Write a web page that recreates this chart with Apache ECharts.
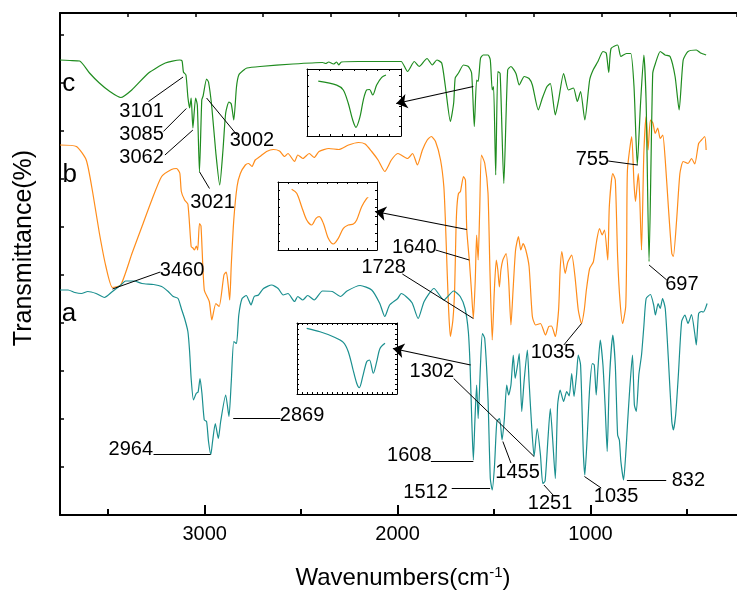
<!DOCTYPE html>
<html>
<head>
<meta charset="utf-8">
<script src="https://cdn.jsdelivr.net/npm/echarts@6/dist/echarts.min.js"></script>
<style>
html, body { margin: 0; padding: 0; background: #fff; }
#main { width: 737px; height: 592px; }
</style>
</head>
<body>
<div id="main"></div>
<script>
// spectra: [wavenumber, transmittance]
var specC = [[3750,91.0],[3699,90.9],[3648,90.8],[3597,88.4],[3546,86.4],[3495,84.8],[3435,83.5],[3378,85.0],[3291,88.4],[3204,90.4],[3129,91.0],[3117,90.8],[3110,88.6],[3097,88.0],[3087,83.6],[3078,81.4],[3070,83.4],[3061,77.4],[3047,83.4],[3038,82.0],[3027,68.6],[3015,83.0],[3008,83.8],[2990,87.2],[2980,86.6],[2963,81.6],[2942,72.4],[2922,66.0],[2905,73.0],[2891,80.4],[2874,82.6],[2862,82.2],[2849,79.0],[2835,85.6],[2823,88.0],[2797,89.0],[2781,89.4],[2713,89.7],[2542,90.2],[2389,90.5],[2372,90.3],[2357,90.6],[2332,90.2],[2316,90.6],[2305,90.0],[2291,90.6],[2203,90.7],[2000,90.7],[1981,90.7],[1948,88.7],[1913,90.7],[1888,89.7],[1847,91.3],[1820,90.0],[1796,91.0],[1771,90.4],[1752,85.7],[1726,78.7],[1709,82.4],[1701,87.4],[1684,88.4],[1658,90.0],[1633,89.7],[1616,88.4],[1602,77.7],[1590,87.0],[1582,86.7],[1570,91.3],[1556,92.0],[1531,92.0],[1519,91.0],[1509,85.0],[1502,85.7],[1491,68.0],[1480,88.7],[1468,88.3],[1449,66.3],[1429,89.0],[1412,89.7],[1386,88.3],[1369,86.0],[1343,87.7],[1318,87.3],[1301,86.0],[1270,81.0],[1250,83.3],[1225,85.7],[1208,86.3],[1182,80.0],[1165,83.0],[1139,88.3],[1114,85.0],[1088,85.4],[1068,82.7],[1051,84.7],[1029,79.0],[1004,87.0],[986,89.0],[961,90.7],[935,92.7],[918,92.4],[905,88.5],[893,93.3],[859,94.0],[842,91.7],[813,92.3],[791,92.3],[774,85.7],[757,70.0],[740,82.4],[723,92.0],[711,82.4],[696,50.7],[677,88.3],[663,90.3],[638,92.7],[613,92.0],[587,91.7],[561,87.7],[540,81.0],[519,91.0],[494,92.7],[451,93.0],[429,92.4],[400,92.0]];

var specB = [[3750,74.0],[3665,73.7],[3614,71.0],[3580,64.4],[3546,56.4],[3512,49.7],[3478,45.5],[3435,46.0],[3376,52.4],[3325,57.7],[3274,63.0],[3223,67.7],[3172,69.1],[3146,69.3],[3129,68.4],[3121,64.7],[3104,63.0],[3087,62.2],[3070,53.7],[3061,53.4],[3053,53.0],[3043,53.8],[3036,53.0],[3027,58.3],[3019,57.8],[3002,45.0],[2976,42.7],[2963,39.0],[2942,42.3],[2925,41.7],[2900,48.0],[2888,48.6],[2878,46.0],[2870,43.0],[2862,50.0],[2849,59.0],[2832,65.7],[2815,68.3],[2789,70.0],[2772,70.3],[2755,69.7],[2738,71.0],[2713,71.7],[2679,72.7],[2644,73.1],[2612,72.8],[2585,71.7],[2568,72.3],[2534,70.7],[2517,72.0],[2491,71.3],[2458,72.3],[2432,71.5],[2407,72.7],[2356,73.3],[2305,73.1],[2254,74.0],[2203,74.5],[2168,74.2],[2134,72.7],[2101,71.0],[2066,68.7],[2032,71.0],[1999,72.3],[1981,72.0],[1948,71.3],[1922,72.3],[1897,70.0],[1871,73.0],[1846,75.0],[1825,75.7],[1803,74.7],[1777,71.0],[1760,65.7],[1752,59.0],[1743,49.0],[1735,41.0],[1726,35.7],[1713,39.0],[1704,45.0],[1697,57.0],[1692,61.7],[1684,64.3],[1674,64.7],[1658,67.7],[1648,67.0],[1641,57.0],[1628,51.0],[1617,45.0],[1607,39.3],[1597,47.0],[1590,56.0],[1582,51.0],[1574,61.0],[1565,72.0],[1548,70.4],[1531,64.4],[1521,49.0],[1509,35.0],[1498,45.0],[1488,51.0],[1480,49.0],[1472,45.6],[1464,49.0],[1454,51.0],[1437,52.3],[1424,47.0],[1412,38.0],[1401,45.0],[1388,53.0],[1373,55.7],[1361,53.0],[1349,54.3],[1335,53.0],[1318,49.7],[1301,39.7],[1284,38.0],[1259,38.3],[1233,36.0],[1216,37.7],[1202,37.8],[1182,35.7],[1165,41.0],[1157,49.0],[1148,52.7],[1131,48.3],[1117,50.6],[1097,52.0],[1080,47.7],[1063,41.0],[1046,38.3],[1032,41.0],[1021,45.0],[1004,49.3],[985,50.6],[967,55.0],[953,57.3],[939,56.0],[927,57.0],[910,51.0],[902,61.7],[884,68.3],[871,67.0],[859,51.7],[847,43.0],[833,38.3],[817,41.7],[812,53.0],[808,69.0],[786,75.7],[774,66.3],[766,62.7],[752,68.3],[745,64.3],[735,53.0],[723,72.3],[711,79.7],[701,73.0],[689,79.0],[676,78.4],[664,76.3],[651,77.4],[638,75.3],[625,76.0],[612,71.0],[596,61.7],[578,52.3],[570,51.7],[553,59.0],[536,68.3],[519,70.7],[494,70.3],[476,71.3],[459,70.2],[439,74.3],[424,75.0],[407,75.7],[400,73.0]];

var specA = [[3750,45.0],[3708,45.0],[3673,44.5],[3639,44.3],[3606,44.7],[3563,44.3],[3520,43.5],[3478,44.7],[3435,46.0],[3410,46.8],[3367,46.8],[3325,46.3],[3265,46.1],[3223,45.7],[3189,44.7],[3163,43.7],[3138,43.3],[3121,41.3],[3104,39.3],[3087,36.7],[3078,32.7],[3070,27.3],[3058,23.0],[3044,24.3],[3034,24.6],[3024,27.3],[3014,24.3],[3002,19.0],[2990,18.7],[2980,14.7],[2968,12.1],[2959,14.7],[2945,18.3],[2929,15.3],[2917,18.7],[2891,24.0],[2874,19.7],[2862,26.7],[2849,34.7],[2835,34.3],[2823,40.0],[2806,43.3],[2784,43.9],[2772,43.0],[2760,42.0],[2743,43.7],[2721,44.0],[2695,45.3],[2653,46.0],[2619,45.3],[2593,44.0],[2568,44.3],[2534,42.7],[2517,43.7],[2491,43.0],[2466,43.9],[2432,43.0],[2389,44.8],[2338,44.7],[2296,43.7],[2262,44.8],[2194,45.9],[2134,45.0],[2092,42.3],[2066,39.7],[2041,42.0],[1999,43.3],[1981,44.3],[1956,43.7],[1924,42.4],[1893,39.3],[1862,42.7],[1811,45.3],[1760,43.0],[1709,44.8],[1675,43.7],[1650,41.3],[1633,36.7],[1624,30.0],[1616,20.0],[1607,11.0],[1599,18.7],[1590,26.0],[1582,19.3],[1570,30.0],[1560,36.3],[1548,35.3],[1531,23.3],[1519,7.3],[1509,5.0],[1497,10.0],[1485,18.7],[1471,19.3],[1458,15.0],[1446,19.3],[1434,26.0],[1424,24.0],[1412,26.0],[1400,32.0],[1390,27.3],[1378,30.0],[1369,32.3],[1356,20.7],[1344,26.7],[1327,33.0],[1318,26.7],[1305,18.0],[1292,11.7],[1276,17.3],[1259,12.0],[1247,6.3],[1235,6.8],[1220,15.3],[1208,21.3],[1196,15.3],[1182,7.3],[1170,22.0],[1157,25.0],[1139,22.7],[1123,24.7],[1110,23.8],[1097,28.3],[1085,23.7],[1072,28.0],[1063,32.0],[1051,30.0],[1037,12.7],[1029,8.0],[1017,15.3],[1004,25.3],[990,30.3],[980,30.0],[970,24.0],[961,29.3],[949,35.0],[935,30.0],[924,22.0],[913,12.7],[902,26.7],[884,36.0],[871,30.0],[859,16.0],[850,15.0],[842,10.7],[828,7.0],[816,12.7],[808,18.0],[796,25.3],[782,32.0],[772,22.0],[762,20.7],[749,28.0],[735,32.0],[723,37.7],[711,43.3],[689,44.1],[672,42.0],[663,40.0],[649,42.3],[638,41.3],[626,43.3],[612,41.3],[596,31.3],[578,18.7],[570,17.0],[558,20.0],[544,28.0],[527,38.7],[510,40.0],[494,38.3],[476,40.1],[459,36.3],[451,34.0],[439,40.3],[425,40.7],[414,40.6],[395,42.3]];

// inset curves (relative units 0-100 inside each box)
var insetC = [[12,82],[31.6,76],[38.6,68.7],[43.9,48.8],[48.6,23.9],[52.1,13],[56.4,28.8],[59.9,53.7],[63.5,68.7],[66.5,69.4],[69.9,61.2],[74.1,76.1],[79.5,87.6],[84,91]];
var insetB = [[13.8,89.3],[18.9,83.4],[23.9,63.7],[29,44.1],[34,36.8],[38.4,46.6],[41.7,49],[45.8,39.3],[50.8,17.2],[55.9,8.8],[60.9,17.2],[66,31.9],[71,36.8],[76.1,38.2],[79.5,44.1],[84.5,63.7],[89.6,76],[91.2,77.2]];
var insetA = [[9.7,92.5],[23,87.7],[36.3,80.7],[46.3,72.8],[51.3,59.6],[55.7,36.2],[59.7,15.1],[62.3,8.9],[65.7,24.4],[69.7,45.5],[72.5,47.9],[76.3,29.2],[79.7,45.5],[83,64.2],[88,71.4]];

// peak labels: [text, wavenumber, transmittance]
var peakLabels = [
  ['3101',3327,80.8],['3085',3327,76.1],['3062',3327,71.5],['3021',2959,62.5],['3002',2755,74.9],
  ['3460',3117,48.9],['2964',3383,13.1],['2869',2495,20.0],['1728',2072,49.5],['1640',1913,53.5],
  ['755',990,71.1],['697',526,46.1],['1035',1194,32.5],['1302',1822,28.8],['1608',1939,11.9],
  ['1455',1378,8.5],['1512',1855,4.5],['1251',1209,2.4],['1035',867,3.7],['832',492,6.9]
];
var curveTags = [['c',3704,86.2],['b',3699,68.0],['a',3704,40.2]];

// leader lines: [wn1, t1, wn2, t2]
var leaderLines = [
  [3291,82.7,3112,87.6],[3214,76.7,3095,81.3],[3206,72.0,3061,77.0],[2975,65.3,3026,68.6],
  [2832,76.0,2990,83.4],[3230,48.6,3478,45.2],[3265,12.2,2969,12.2],[2852,19.3,2607,19.3],
  [1975,48.2,1607,39.3],[1803,53.0,1628,51.0],[908,70.8,755,70.0],[696,50.0,604,47.0],
  [1138,34.0,1046,38.3],[1709,27.3,1292,11.7],[1827,10.7,1607,10.7],[1412,10.4,1454,14.7],
  [1719,5.3,1520,5.3],[1241,6.0,1189,3.8],[1031,7.7,944,5.4],[811,7.0,607,7.0]
];
var arrowLines = [[1607,85.7,2007,82.3],[1641,57.1,2117,60.7],[1621,30.0,2024,33.3]];

var xTicks = [3000, 2000, 1000];
var xMinorTicks = [3500, 2500, 1500, 500];

var FONT = 'Liberation Sans, Arial, Helvetica, sans-serif';
var colC = '#1f8c1f', colB = '#ff8c1a', colA = '#1a8f8f';

var insetBoxes = [
  {left: 307, top: 69, width: 94, height: 67, dx: 12.5, dy: 15},
  {left: 278, top: 182, width: 99, height: 68, dx: 10, dy: 12.5},
  {left: 297, top: 323, width: 100, height: 71, dx: 5, dy: 7}
];
var insetData = [insetC, insetB, insetA];
var insetCol = [colC, colB, colA];

var grids = [{left: 60, top: 13, width: 688, height: 502}];
var xAxes = [
  {gridIndex: 0, type: 'value', min: 240, max: 3750, inverse: true, position: 'bottom',
   axisLine: {onZero: false, lineStyle: {color: '#000', width: 2}},
   axisTick: {inside: true, length: 10, customValues: xTicks, lineStyle: {color: '#000', width: 2}},
   axisLabel: {customValues: xTicks, color: '#000', fontSize: 20, fontFamily: FONT, margin: 9,
     formatter: function (v) { return String(v); }},
   splitLine: {show: false}},
  {gridIndex: 0, type: 'value', min: 240, max: 3750, inverse: true, position: 'bottom',
   axisLine: {show: false, onZero: false},
   axisTick: {inside: true, length: 6, customValues: xMinorTicks, lineStyle: {color: '#000', width: 2}},
   axisLabel: {show: false}, splitLine: {show: false}},
  {gridIndex: 0, type: 'value', min: 0, max: 10, interval: 1, position: 'top',
   axisLine: {onZero: false, lineStyle: {color: '#000', width: 2}},
   axisTick: {inside: true, length: 4, lineStyle: {color: '#000', width: 1.5}},
   axisLabel: {show: false}, splitLine: {show: false}}
];
var yAxes = [
  {gridIndex: 0, type: 'value', min: 0, max: 100.4, interval: 9.6,
   axisLine: {show: true, onZero: false, lineStyle: {color: '#000', width: 2}},
   axisTick: {show: true, inside: true, length: 4, lineStyle: {color: '#000', width: 1.5}},
   axisLabel: {show: false}, splitLine: {show: false}}
];
var series = [
  {type: 'line', name: 'c', data: specC, xAxisIndex: 0, yAxisIndex: 0, showSymbol: false, smooth: 0.2,
   lineStyle: {color: colC, width: 1.2}, z: 3},
  {type: 'line', name: 'b', data: specB, xAxisIndex: 0, yAxisIndex: 0, showSymbol: false, smooth: 0.2,
   lineStyle: {color: colB, width: 1.2}, z: 2},
  {type: 'line', name: 'a', data: specA, xAxisIndex: 0, yAxisIndex: 0, showSymbol: false, smooth: 0.2,
   lineStyle: {color: colA, width: 1.2}, z: 2}
];

insetBoxes.forEach(function (b, k) {
  grids.push({left: b.left, top: b.top, width: b.width, height: b.height});
  var gi = k + 1;
  ['bottom', 'top'].forEach(function (pos) {
    xAxes.push({gridIndex: gi, type: 'value', min: 0, max: 100, interval: b.dx, position: pos,
      axisLine: {onZero: false, lineStyle: {color: '#000', width: 1}},
      axisTick: {inside: true, length: 2, lineStyle: {color: '#000', width: 1}},
      axisLabel: {show: false}, splitLine: {show: false}});
  });
  ['left', 'right'].forEach(function (pos) {
    yAxes.push({gridIndex: gi, type: 'value', min: 0, max: 100, interval: b.dy, position: pos,
      axisLine: {show: true, onZero: false, lineStyle: {color: '#000', width: 1}},
      axisTick: {show: true, inside: true, length: 2, lineStyle: {color: '#000', width: 1}},
      axisLabel: {show: false}, splitLine: {show: false}});
  });
  series.push({type: 'line', data: insetData[k], xAxisIndex: 3 + 2 * k, yAxisIndex: 1 + 2 * k,
    showSymbol: false, smooth: 0.3, lineStyle: {color: insetCol[k], width: 1.2}, silent: true});
});

series.push({
  type: 'lines', coordinateSystem: 'cartesian2d', xAxisIndex: 0, yAxisIndex: 0, silent: true, z: 5,
  symbol: ['none', 'none'], lineStyle: {color: '#000', width: 1, opacity: 1, curveness: 0},
  data: leaderLines.map(function (l) { return {coords: [[l[0], l[1]], [l[2], l[3]]]}; })
});
series.push({
  type: 'lines', coordinateSystem: 'cartesian2d', xAxisIndex: 0, yAxisIndex: 0, silent: true, z: 5,
  symbol: ['none', 'arrow'], symbolSize: 11, lineStyle: {color: '#000', width: 1.2, opacity: 1, curveness: 0},
  data: arrowLines.map(function (l) { return {coords: [[l[0], l[1]], [l[2], l[3]]]}; })
});
series.push({
  type: 'scatter', xAxisIndex: 0, yAxisIndex: 0, symbolSize: 1, silent: true, z: 6,
  itemStyle: {color: 'rgba(0,0,0,0)', opacity: 1},
  label: {show: true, position: 'inside', formatter: '{b}', color: '#000', opacity: 1,
    fontSize: 20, fontFamily: FONT},
  data: peakLabels.map(function (p) { return {name: p[0], value: [p[1], p[2]]}; })
    .concat(curveTags.map(function (p) {
      return {name: p[0], value: [p[1], p[2]], label: {fontSize: 26}};
    }))
});

var chart = echarts.init(document.getElementById('main'));
chart.setOption({
  animation: false,
  backgroundColor: '#fff',
  grid: grids,
  xAxis: xAxes,
  yAxis: yAxes,
  series: series,
  graphic: [
    {type: 'text', x: 24, y: 248, rotation: Math.PI / 2,
     style: {text: 'Transmittance(%)', font: '25px ' + FONT, fill: '#000', textAlign: 'center', textVerticalAlign: 'middle'}},
    {type: 'text', x: 403, y: 578,
     style: {text: 'Wavenumbers(cm{sup|-1})', font: '24px ' + FONT, fill: '#000', textAlign: 'center', textVerticalAlign: 'middle',
       rich: {sup: {fontSize: 15, fontFamily: FONT, verticalAlign: 'top', padding: [0, 0, 10, 0]}}}}
  ]
});
</script>
</body>
</html>
